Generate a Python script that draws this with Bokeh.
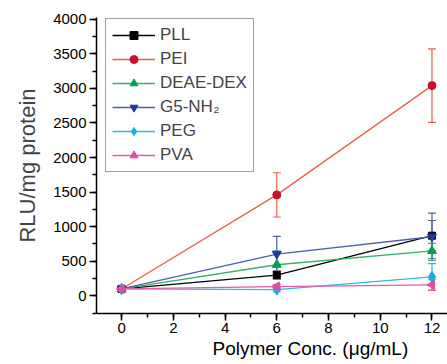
import numpy as np
from bokeh.plotting import figure
from bokeh.models import (Range1d, SingleIntervalTicker, ColumnDataSource, Whisker,
                          TeeHead, Title, Legend)
from bokeh.embed import file_html
from bokeh.resources import INLINE

conc = [0, 6, 12]
names = ["PLL", "PEI", "DEAE-DEX", "G5-NH\u2082", "PEG", "PVA"]
pll = [100, 300, 870]
pll_err = [20, 60, 220]
pei = [100, 1460, 3040]
pei_err = [20, 320, 530]
deae = [100, 450, 650]
deae_err = [20, 200, 110]
g5 = [100, 605, 855]
g5_err = [20, 255, 340]
peg = [100, 90, 275]
peg_err = [20, 30, 190]
pva = [100, 135, 160]
pva_err = [20, 30, 80]

FONT = "Liberation Sans"

p = figure(width=447, height=364, output_backend="svg", toolbar_location=None,
           x_range=Range1d(-0.97, 12.6), y_range=Range1d(-255, 4025),
           min_border_left=96, min_border_right=0, min_border_top=17, min_border_bottom=51)
p.outline_line_color = None
p.xgrid.visible = False
p.ygrid.visible = False
p.background_fill_color = "white"

p.xaxis.ticker = SingleIntervalTicker(interval=2, num_minor_ticks=2)
p.yaxis.ticker = SingleIntervalTicker(interval=500, num_minor_ticks=2)
for ax in (p.xaxis, p.yaxis):
    ax.axis_line_width = 1.5
    ax.axis_line_color = "black"
    ax.major_tick_line_width = 1.5
    ax.minor_tick_line_width = 1.5
    ax.major_tick_line_color = "black"
    ax.minor_tick_line_color = "black"
    ax.major_tick_in = 0
    ax.minor_tick_in = 0
    ax.major_tick_out = 7
    ax.minor_tick_out = 4
    ax.major_label_text_font = FONT
    ax.major_label_text_font_size = "15px"
    ax.major_label_text_color = "black"
p.xaxis.major_label_standoff = 2
p.yaxis.major_label_standoff = 3
p.yaxis.axis_label = "RLU/mg protein"
p.yaxis.axis_label_text_font = FONT
p.yaxis.axis_label_text_font_size = "22px"
p.yaxis.axis_label_text_font_style = "normal"
p.yaxis.axis_label_standoff = 10

series = [
    (names[0], pll, pll_err, "black", "black", "#666666", "square", 0, 7),
    (names[1], pei, pei_err, "#E8604C", "#C8102E", "#E8604C", "circle", 0, 8),
    (names[2], deae, deae_err, "#2DB36A", "#00A050", "#2DB36A", "triangle", 0, 9),
    (names[3], g5, g5_err, "#4A5FB0", "#1F3C99", "#4A5FB0", "inverted_triangle", 0, 9),
    (names[4], peg, peg_err, "#2BBCE0", "#10B0E0", "#2BBCE0", "diamond", 0, 11),
    (names[5], pva, pva_err, "#E65AA8", "#E04C9F", "#E65AA8", "triangle", np.pi / 2, 9),
]

items = []
for name, ys, errs, lc, mc, ec, marker, ang, sz in series:
    src = ColumnDataSource(dict(x=conc, y=ys,
                                upper=[a + b for a, b in zip(ys, errs)],
                                lower=[a - b for a, b in zip(ys, errs)]))
    w = Whisker(source=src, base="x", upper="upper", lower="lower",
                line_color=ec, line_width=1.2,
                upper_head=TeeHead(size=8, line_color=ec, line_width=1.2),
                lower_head=TeeHead(size=8, line_color=ec, line_width=1.2))
    p.add_layout(w)
    l = p.line("x", "y", source=src, line_color=lc, line_width=1.3)
    s = p.scatter("x", "y", source=src, marker=marker, angle=ang, size=sz,
                  fill_color=mc, line_color=mc)
    items.append((name, [l, s]))

legend = Legend(items=items, location=(9, 141))
legend.label_text_font = FONT
legend.label_text_font_size = "17px"
legend.glyph_width = 43
legend.glyph_height = 20
legend.label_height = 20
legend.label_standoff = 5
legend.spacing = 4
legend.padding = 6
legend.margin = 0
legend.border_line_color = "#444444"
legend.border_line_width = 1.5
legend.background_fill_alpha = 1
p.add_layout(legend)

xt = Title(text="Polymer Conc. (\u03bcg/mL)", align="left", offset=116,
           text_font=FONT, text_font_size="19px", text_font_style="normal",
           text_color="black", standoff=0)
p.add_layout(xt, "below")

open("out.html", "w").write(file_html(p, INLINE))
